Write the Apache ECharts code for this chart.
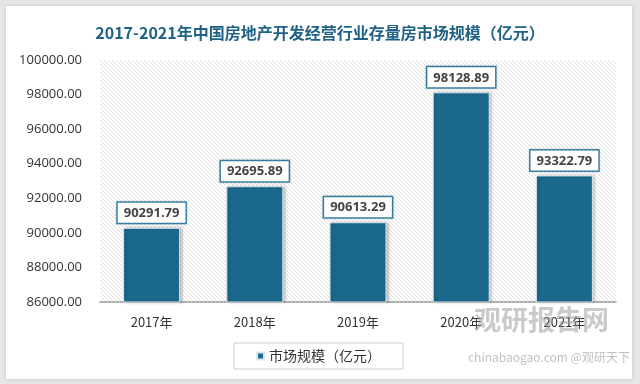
<!DOCTYPE html>
<html><head><meta charset="utf-8">
<script src="https://cdn.jsdelivr.net/npm/echarts@6/dist/echarts.min.js"></script>
<style>html,body{margin:0;padding:0;background:#e6e6e6;}#c{width:640px;height:384px;}</style>
</head><body><div id="c"></div>
<script>
const categories = ['2017年','2018年','2019年','2020年','2021年'];
const values = [90291.79, 92695.89, 90613.29, 98128.89, 93322.79];
const yTicks = {min: 86000, max: 100000, interval: 2000};
const seriesName = '市场规模（亿元）';
const titleText = '2017-2021年中国房地产开发经营行业存量房市场规模（亿元）';

const pc = document.createElement('canvas');
pc.width = 4; pc.height = 4;
const g = pc.getContext('2d');
g.fillStyle = '#ffffff'; g.fillRect(0,0,4,4);
g.strokeStyle = '#dedede'; g.lineWidth = 1;
g.beginPath();
g.moveTo(-1,-1); g.lineTo(5,5);
g.moveTo(-1,3); g.lineTo(1,5);
g.moveTo(3,-1); g.lineTo(5,1);
g.stroke();

const chart = echarts.init(document.getElementById('c'), null, {renderer:'canvas'});
chart.setOption({
  backgroundColor: 'transparent',
  animation: false,
  graphic: [{
    type: 'rect', z: -10, silent: true,
    shape: {x: 6, y: 6, width: 626, height: 373},
    style: {fill: '#ffffff', shadowColor: 'rgba(0,0,0,0.15)', shadowBlur: 4}
  }, {
    type: 'text', left: 474, top: 306, z: 100, silent: true,
    style: {text: '观研报告网', fill: 'rgba(150,150,150,0.5)', font: 'bold 27px "Noto Sans CJK SC"'}
  }, {
    type: 'text', left: 468, top: 351, z: 100, silent: true,
    style: {text: 'chinabaogao.com @观研天下', fill: 'rgba(150,150,150,0.6)', font: '12px "Noto Sans CJK SC"'}
  }],
  title: {
    text: titleText, left: 'center', top: 20,
    textStyle: {color: '#1f6286', fontSize: 16, fontWeight: 'bold', fontFamily: '"Noto Sans CJK SC"'}
  },
  legend: {
    data: [seriesName], left: 234, top: 343,
    itemWidth: 7, itemHeight: 7, icon: 'rect',
    borderColor: '#cccccc', borderWidth: 1, padding: [6, 22, 6, 22],
    textStyle: {color: '#333', fontSize: 14, fontFamily: '"Noto Sans CJK SC"'}
  },
  grid: {
    left: 100, right: 24, top: 60, bottom: 82,
    show: true, borderWidth: 0,
    backgroundColor: {image: pc, repeat: 'repeat'}
  },
  xAxis: {
    type: 'category', data: categories,
    axisLine: {lineStyle: {color: '#9a9a9a', width: 1.5}},
    axisTick: {show: false},
    axisLabel: {color: '#333', fontSize: 13, margin: 14, fontFamily: '"Noto Sans CJK SC"'}
  },
  yAxis: {
    type: 'value', min: yTicks.min, max: yTicks.max, interval: yTicks.interval,
    axisLine: {show: false}, axisTick: {show: false}, splitLine: {show: false},
    axisLabel: {color: '#333', fontSize: 13, margin: 18, fontFamily: '"Open Sans"',
      formatter: v => v.toFixed(2)}
  },
  series: [{
    name: seriesName, type: 'bar', data: values, barWidth: 57,
    itemStyle: {color: '#1b6a8e', borderColor: '#d9e6ec', borderWidth: 1,
      shadowColor: 'rgba(0,0,0,0.25)', shadowBlur: 3, shadowOffsetX: 2, shadowOffsetY: 0},
    label: {
      show: true, position: 'top', distance: 5,
      formatter: p => p.value.toFixed(2),
      color: '#444', fontSize: 13, fontWeight: 'bold', fontFamily: '"Open Sans"',
      backgroundColor: '#fff', borderColor: '#3b86aa', borderWidth: 1.5,
      padding: [4, 6, 3, 6],
      shadowColor: 'rgba(0,0,0,0.2)', shadowBlur: 2
    }
  }]
});
</script></body></html>
